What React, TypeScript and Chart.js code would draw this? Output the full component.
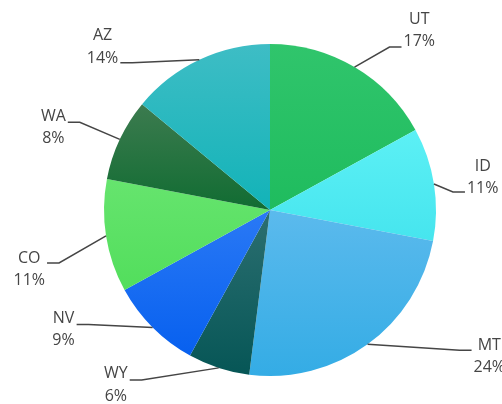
import React, { useEffect, useRef } from "react";
import { Chart, registerables } from "chart.js";

Chart.register(...registerables);

const categories = ["UT", "ID", "MT", "WY", "NV", "CO", "WA", "AZ"];
const shares = [17, 11, 24, 6, 9, 11, 8, 14];
const percentLabels = ["17%", "11%", "24%", "6%", "9%", "11%", "8%", "14%"];

const baseColors = ["#1fbc5e", "#46e5ee", "#34ace5", "#065656", "#0760ef", "#52de5c", "#116c32", "#12b3b8"];
const topColors = ["#30c56c", "#5cf0f5", "#5bbaed", "#2c6f71", "#2a79f5", "#66e46e", "#3c7b4f", "#3ebdc5"];

// leader line end, offset from the slice's outer-edge midpoint
const leaderEnds = [[47, -20], [31, 8], [104, 6], [-89, 12], [-76, -3], [-59, 27], [-52, -17], [-79, 3]];
// vertical offset of the first label line from the leader end
const textDy = [-28, -26, -5, -6, -6, -5, -6, -27];

const FONT = "16px 'Open Sans'";
const INK = "#454545";

const labelPlugin = {
  id: "leaderLabels",
  beforeDatasetsDraw(chart: any) {
    const ctx = chart.ctx;
    const meta = chart.getDatasetMeta(0);
    meta.data.forEach((arc: any, i: number) => {
      const { x, y, outerRadius, startAngle, endAngle } = arc.getProps(
        ["x", "y", "outerRadius", "startAngle", "endAngle"],
        true
      );
      const ys = [y, y + outerRadius * Math.sin(startAngle), y + outerRadius * Math.sin(endAngle)];
      for (const a of [-Math.PI / 2, Math.PI / 2, (3 * Math.PI) / 2]) {
        if (a >= startAngle && a <= endAngle) ys.push(y + outerRadius * Math.sin(a));
      }
      const g = ctx.createLinearGradient(0, Math.min(...ys), 0, Math.max(...ys));
      g.addColorStop(0, topColors[i]);
      g.addColorStop(1, baseColors[i]);
      arc.options.backgroundColor = g;
    });
  },
  afterDatasetsDraw(chart: any) {
    const ctx = chart.ctx;
    const meta = chart.getDatasetMeta(0);
    ctx.save();
    ctx.font = FONT;
    ctx.textAlign = "center";
    ctx.textBaseline = "middle";
    meta.data.forEach((arc: any, i: number) => {
      const { x, y, outerRadius, startAngle, endAngle } = arc.getProps(
        ["x", "y", "outerRadius", "startAngle", "endAngle"],
        true
      );
      const mid = (startAngle + endAngle) / 2;
      const ax = x + outerRadius * Math.cos(mid);
      const ay = y + outerRadius * Math.sin(mid);
      const ex = ax + leaderEnds[i][0];
      const ey = ay + leaderEnds[i][1];
      const right = leaderEnds[i][0] > 0;
      const kx = ex + (right ? -12 : 12);
      ctx.strokeStyle = INK;
      ctx.lineWidth = 1.5;
      ctx.beginPath();
      ctx.moveTo(ax, ay);
      ctx.lineTo(kx, ey);
      ctx.lineTo(ex, ey);
      ctx.stroke();
      const w = Math.max(ctx.measureText(categories[i]).width, ctx.measureText(percentLabels[i]).width);
      const cx = right ? ex + 2 + w / 2 : ex - 2 - w / 2;
      ctx.fillStyle = INK;
      ctx.fillText(categories[i], cx, ey + textDy[i]);
      ctx.fillText(percentLabels[i], cx, ey + textDy[i] + 22.5);
    });
    ctx.restore();
  },
};

export default function App() {
  const ref = useRef<HTMLCanvasElement>(null);
  useEffect(() => {
    if (!ref.current) return;
    const chart = new Chart(ref.current, {
      type: "pie",
      data: {
        labels: categories,
        datasets: [
          {
            data: shares,
            backgroundColor: baseColors,
            borderWidth: 0,
          },
        ],
      },
      options: {
        responsive: false,
        animation: false,
        events: [],
        layout: { padding: { top: 44, bottom: 28, left: 104, right: 66 } },
        plugins: {
          legend: { display: false },
          tooltip: { enabled: false },
        },
      },
      plugins: [labelPlugin],
    });
    return () => chart.destroy();
  }, []);
  return (
    <div style={{ position: "absolute", left: 0, top: 0, width: 502, height: 404, background: "#fff" }}>
      <canvas ref={ref} width={502} height={404} style={{ width: 502, height: 404, display: "block" }} />
    </div>
  );
}
